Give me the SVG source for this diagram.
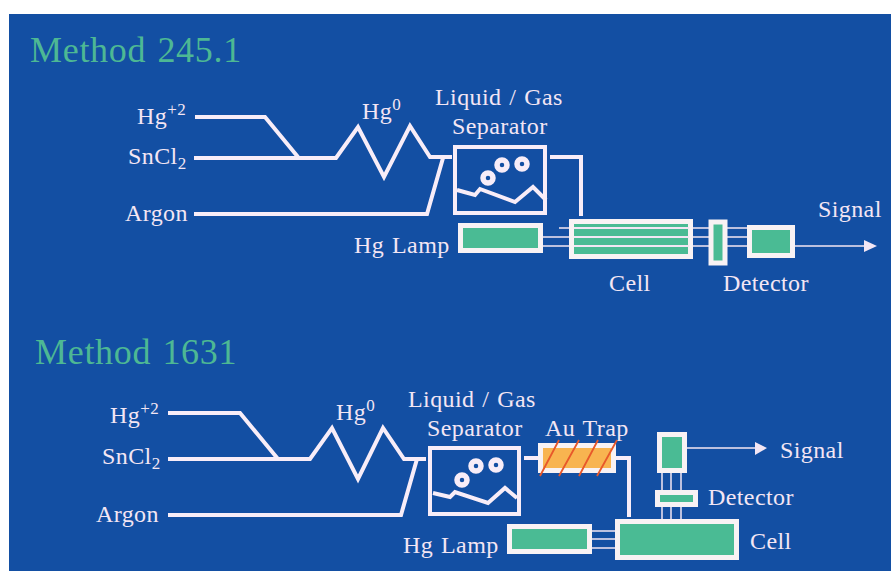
<svg xmlns="http://www.w3.org/2000/svg" width="891" height="571" viewBox="0 0 891 571">
<style>
text{font-family:"Liberation Serif","Times New Roman",serif;fill:#f3e6f4;font-size:24px;letter-spacing:.4px;word-spacing:1.5px}
.t{fill:#4db894;font-size:36px;letter-spacing:.7px}
.s{font-size:17px}
.w{fill:none;stroke:#f8edf8;stroke-width:4;stroke-linejoin:miter}
.b{fill:#4abb94;stroke:#f8f2f4;stroke-width:5}
.l{fill:none;stroke:#f3e6f4;stroke-width:1.5}
.r{fill:none;stroke:#e8582a;stroke-width:1.8}
.o{fill:#f8b450;stroke:#f8f2f4;stroke-width:5}
.c{fill:none;stroke:#f8edf8;stroke-width:5.5}
.a{fill:#f3e6f4}
</style>
<rect width="891" height="571" fill="#fff"/>
<rect x="9" y="14" width="882" height="557" fill="#134fa3"/>
<g id="method-245-1-title"><text class="t" x="30" y="62">Method 245.1</text></g>
<g id="method-1631-title"><text class="t" x="35" y="364">Method 1631</text></g>
<g id="connectors">
<path class="w" d="M195 117H265L298 157M194 158H336L358 127L384 177L410 126L430 157H452M194 214H427L443 158"/>
<path class="w" d="M550 157H581V216"/>
<path class="l" d="M559 228H747M543 237H747M543 246H864"/>
<path class="a" d="M864 240L877 246L864 252Z"/>
<path class="w" d="M168 413H240L278 459M168 459H310L332 428L358 479L383 428L404 459H426M168 515H401L417 459"/>
<path class="w" d="M524 458H538M616 458H629V517"/>
<path class="l" d="M592 531H615M592 539H615M592 548H615M662 473V519M671 473V519M681 473V519M687 448H755"/>
<path class="a" d="M755 442L767 448L755 455Z"/>
</g>
<g id="hg2-1"><text x="137" y="124">Hg<tspan class="s" dy="-9">+2</tspan></text></g>
<g id="sncl2-1"><text x="128" y="164">SnCl<tspan class="s" dy="5">2</tspan></text></g>
<g id="argon-1"><text x="125" y="221">Argon</text></g>
<g id="hg0-1"><text x="362" y="119">Hg<tspan class="s" dy="-9">0</tspan></text></g>
<g id="separator-1">
<text x="435" y="105">Liquid / Gas</text><text x="452" y="134">Separator</text>
<rect class="w" x="455" y="147" width="90" height="66"/>
<circle class="c" cx="502" cy="165" r="5"/><circle class="c" cx="522" cy="164" r="5"/><circle class="c" cx="488" cy="178" r="5"/>
<path class="w" d="M457 190L475 195L480 189L515 202L533 187L546 200"/>
</g>
<g id="lamp-1"><text x="354" y="253">Hg Lamp</text><rect class="b" x="460.500" y="225.500" width="80" height="25"/></g>
<g id="cell-1"><rect class="b" x="571.500" y="221.500" width="119" height="35"/><path d="M574 228H689M574 237H689M574 246H689" stroke="#f3e6f4" stroke-width="2"/><text x="609" y="291">Cell</text></g>
<g id="filter-1"><rect class="b" x="711" y="222" width="14" height="41"/></g>
<g id="detector-1"><rect class="b" x="749.500" y="227.500" width="43" height="28"/><text x="723" y="291">Detector</text></g>
<g id="signal-1"><text x="818" y="217">Signal</text></g>
<g id="hg2-2"><text x="110" y="423">Hg<tspan class="s" dy="-9">+2</tspan></text></g>
<g id="sncl2-2"><text x="102" y="464">SnCl<tspan class="s" dy="5">2</tspan></text></g>
<g id="argon-2"><text x="96" y="522">Argon</text></g>
<g id="hg0-2"><text x="336" y="420">Hg<tspan class="s" dy="-9">0</tspan></text></g>
<g id="separator-2">
<text x="408" y="407">Liquid / Gas</text><text x="427" y="436">Separator</text>
<rect class="w" x="430" y="448" width="89" height="66"/>
<circle class="c" cx="476" cy="466" r="5"/><circle class="c" cx="496" cy="465" r="5"/><circle class="c" cx="462" cy="480" r="5"/>
<path class="w" d="M433 493L450 497L455 492L488 503L505 488L517 498"/>
</g>
<g id="au-trap"><text x="545" y="436">Au Trap</text><rect class="o" x="540.500" y="445.500" width="73" height="25"/>
<path class="r" d="M540 476L559 440M559 476L579 440M579 476L598 440M597 476L617 440"/></g>
<g id="lamp-2"><text x="403" y="553">Hg Lamp</text><rect class="b" x="509.500" y="526.500" width="80" height="25"/></g>
<g id="cell-2"><rect class="b" x="617.500" y="521.500" width="119" height="36"/><text x="750" y="549">Cell</text></g>
<g id="detector-2"><rect class="b" x="657.500" y="492.500" width="38" height="12"/><rect class="b" x="659.500" y="434.500" width="25" height="36"/><text x="708" y="505">Detector</text></g>
<g id="signal-2"><text x="780" y="458">Signal</text></g>
</svg>
